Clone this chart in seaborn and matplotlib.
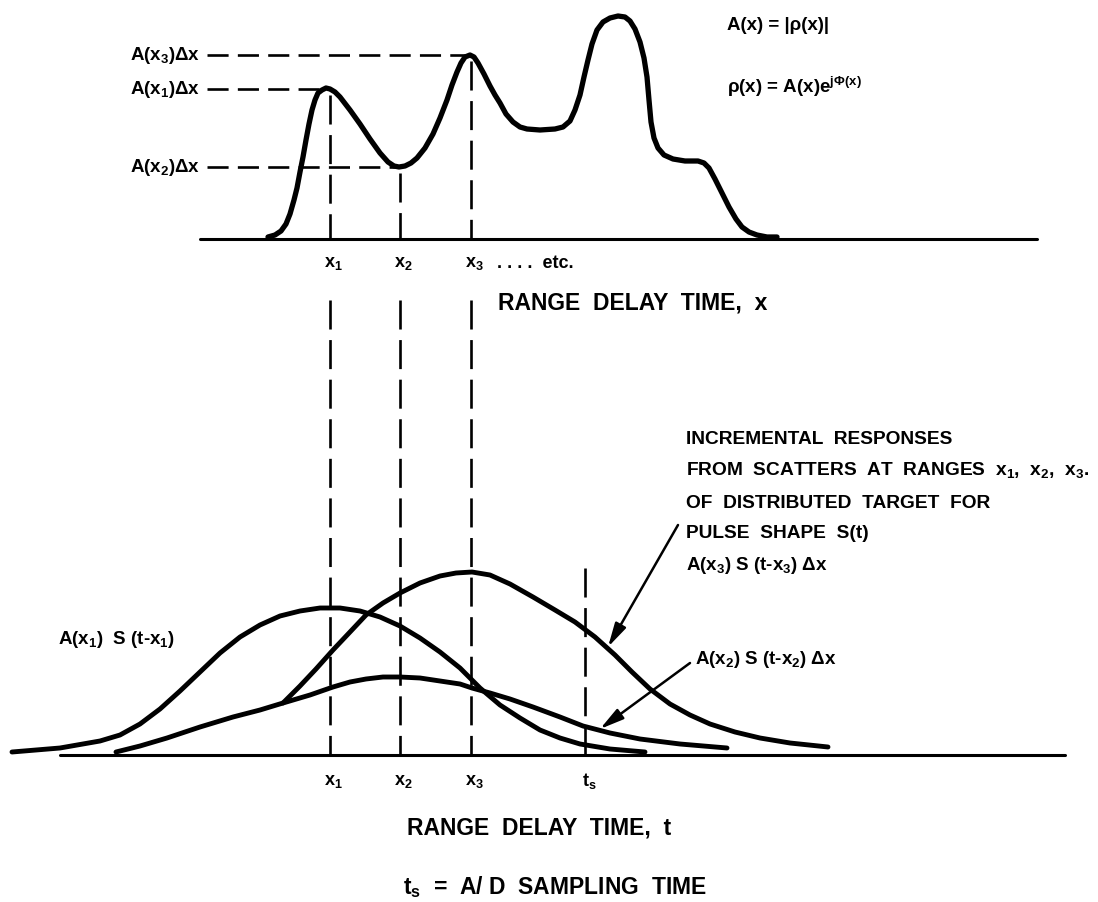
import matplotlib
matplotlib.use("Agg")
import matplotlib.pyplot as plt
import seaborn as sns

sns.set_theme(style="white")
plt.rcParams['font.family'] = ['Liberation Sans', 'DejaVu Sans']
plt.rcParams['font.weight'] = 'bold'
plt.rcParams['mathtext.default'] = 'regular'

# ---------------- data ----------------
# distributed target amplitude A(x) vs range delay time x
target_x = [268, 275, 281, 286, 290, 294, 297, 300, 303, 306, 309, 312, 315, 318,
            322, 326, 330, 335, 340, 350, 360, 370, 380, 388, 394, 399, 405, 411,
            417, 425, 433, 440, 447, 452, 457, 461, 465, 470, 474, 478, 484, 490,
            495, 500, 506, 513, 520, 527, 540, 555, 563, 570, 575, 580, 584, 588,
            592, 597, 603, 610, 618, 625, 630, 635, 640, 644, 647, 649, 651, 654,
            658, 664, 673, 685, 698, 704, 709, 715, 722, 729, 736, 742, 749, 757,
            767, 777]
target_a = [2, 4, 8, 15, 25, 39, 51, 67, 82, 99, 115, 129, 139, 146,
            149, 151, 150, 147, 142, 129, 115, 100, 86, 77, 73, 72, 73, 76,
            81, 91, 105, 121, 139, 154, 167, 176, 182, 184, 182, 176, 165, 153,
            144, 136, 125, 117, 112, 110, 109, 110, 112, 118, 129, 144, 162, 179,
            195, 209, 217, 221, 223, 222, 218, 210, 197, 181, 162, 139, 117, 101,
            91, 84, 80, 78, 78, 76, 71, 60, 46, 32, 20, 12, 7, 4,
            2, 2]

# incremental responses vs range delay time t
resp1_t = [12, 60, 100, 120, 140, 160, 180, 200, 220, 240, 260, 280, 300, 320,
           340, 360, 380, 400, 420, 440, 460, 480, 500, 520, 540, 560, 580, 610, 645]
resp1_a = [3, 7, 14, 20, 31, 46, 64, 83, 102, 118, 130, 139, 144, 147,
           147, 144, 138, 129, 117, 103, 87, 67, 50, 37, 25, 17, 11, 6, 3]
resp2_t = [116, 140, 167, 200, 233, 260, 283, 310, 333, 350, 366, 383, 400, 420,
           440, 460, 472, 490, 510, 533, 560, 583, 610, 640, 680, 727]
resp2_a = [3, 9, 17, 28, 38, 45, 52, 60, 68, 73, 76, 78, 78, 77,
           74, 71, 67, 62, 56, 48, 38, 29, 22, 16, 11, 7]
resp3_t = [283, 300, 316, 333, 350, 366, 383, 400, 420, 440, 456, 472, 490, 510,
           533, 555, 575, 595, 615, 632, 650, 670, 690, 710, 735, 760, 790, 828]
resp3_a = [52, 69, 86, 105, 123, 140, 152, 162, 172, 179, 182, 183, 180, 171,
           158, 145, 133, 118, 100, 83, 66, 51, 40, 31, 23, 17, 12, 8]

range_marks = [330, 400, 471]          # x1, x2, x3
range_levels = [150, 72, 184]          # A(x1)dx, A(x2)dx, A(x3)dx
range_names = ["x$_1$", "x$_2$", "x$_3$"]
level_names = ["A(x$_1$)Δx", "A(x$_2$)Δx", "A(x$_3$)Δx"]
t_sample = 585

# ---------------- figure ----------------
W, H = 1098, 902
TOP_BASE, BOT_BASE = 239, 755
fig = plt.figure(figsize=(W / 100, H / 100), dpi=100)
fig.patch.set_facecolor("white")

ax_top = fig.add_axes([0, 0, 1, 1])
ax_top.set_xlim(0, W)
ax_top.set_ylim(TOP_BASE - H, TOP_BASE)
ax_bot = fig.add_axes([0, 0, 1, 1])
ax_bot.set_xlim(0, W)
ax_bot.set_ylim(BOT_BASE - H, BOT_BASE)
ax_txt = fig.add_axes([0, 0, 1, 1])
ax_txt.set_xlim(0, W)
ax_txt.set_ylim(H, 0)
for a in (ax_top, ax_bot, ax_txt):
    a.set_axis_off()
    a.patch.set_alpha(0)

K = "black"
dash_h = (0, (8, 3.5))
dash_v = (0, (11, 4))

# top panel
ax_top.plot([200, 1037], [0, 0], color=K, lw=2.2)
sns.lineplot(x=target_x, y=target_a, ax=ax_top, sort=False, estimator=None,
             color=K, lw=3.8, solid_capstyle="round", solid_joinstyle="round")
for xm, lv in zip(range_marks, range_levels):
    ax_top.plot([207, xm], [lv, lv], color=K, lw=1.9, linestyle=dash_h)
    ax_top.plot([xm, xm], [lv - 6, 0], color=K, lw=1.9, linestyle=dash_v)

# bottom panel
ax_bot.plot([60, 1065], [0, 0], color=K, lw=2.2)
for tt, aa in ((resp1_t, resp1_a), (resp2_t, resp2_a), (resp3_t, resp3_a)):
    sns.lineplot(x=tt, y=aa, ax=ax_bot, sort=False, estimator=None,
                 color=K, lw=3.5, solid_capstyle="round", solid_joinstyle="round")
for xm in range_marks:
    ax_bot.plot([xm, xm], [BOT_BASE - 300, 0], color=K, lw=1.9, linestyle=dash_v)
ax_bot.plot([t_sample, t_sample], [BOT_BASE - 568, 0], color=K, lw=1.9, linestyle=dash_v)

arrow = dict(arrowstyle="-|>,head_length=1.2,head_width=0.3", lw=1.8, color=K,
             shrinkA=0, shrinkB=0)
ax_bot.annotate("", xy=(608, 108), xytext=(678, 230), arrowprops=arrow)
ax_bot.annotate("", xy=(600, 26), xytext=(690, 92), arrowprops=arrow)

# ---------------- text ----------------
T = dict(color=K, fontweight="bold", va="center")
for lv, nm in zip(range_levels, level_names):
    ax_txt.text(200, TOP_BASE - lv, nm, ha="right", fontsize=13.5, **T)
for xm, nm in zip(range_marks, range_names):
    ax_txt.text(xm + 3, 263, nm, ha="center", fontsize=13, **T)
    ax_txt.text(xm + 3, 781, nm, ha="center", fontsize=13, **T)
ax_txt.text(t_sample + 4, 781, "t$_s$", ha="center", fontsize=13, **T)
ax_txt.text(497, 263, ". . . .  etc.", ha="left", fontsize=13, **T)
ax_txt.text(498, 303, "RANGE  DELAY  TIME,  x", ha="left", fontsize=16.5, **T)
ax_txt.text(727, 25, "A(x) = |ρ(x)|", ha="left", fontsize=13.5, **T)
ax_txt.text(727, 87, "ρ(x) = A(x)e$^{jΦ(x)}$", ha="left", fontsize=13.5, **T)

ax_txt.text(686, 440, "INCREMENTAL  RESPONSES", ha="left", fontsize=13.8, **T)
ax_txt.text(686, 470, "FROM  SCATTERS  AT  RANGES  x$_1$,  x$_2$,  x$_3$.", ha="left", fontsize=13.8, **T)
ax_txt.text(686, 503, "OF  DISTRIBUTED  TARGET  FOR", ha="left", fontsize=13.8, **T)
ax_txt.text(686, 533, "PULSE  SHAPE  S(t)", ha="left", fontsize=13.8, **T)
ax_txt.text(686, 565, "A(x$_3$) S (t-x$_3$) Δx", ha="left", fontsize=13.5, **T)
ax_txt.text(695, 660, "A(x$_2$) S (t-x$_2$) Δx", ha="left", fontsize=13.5, **T)
ax_txt.text(58, 640, "A(x$_1$)  S (t-x$_1$)", ha="left", fontsize=13.5, **T)

ax_txt.text(407, 828, "RANGE  DELAY  TIME,  t", ha="left", fontsize=16.5, **T)
ax_txt.text(403, 887, "t$_s$  =  A/ D  SAMPLING  TIME", ha="left", fontsize=16.5, **T)

fig.savefig("out.png", dpi=100, facecolor="white")
